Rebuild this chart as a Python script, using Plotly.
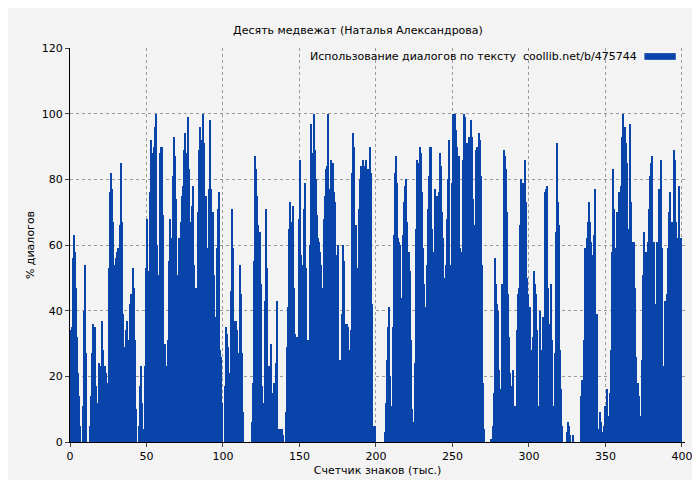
import plotly.graph_objects as go

# Доля диалогов (%) по ходу текста, прочитано с картинки по колонкам
seg1 = [34, 35, 56, 63, 58, 47, 32, 21, 14, 5, 0, 0, 11, 40, 54, 27, 0, 0, 0, 5, 14, 27, 36, 35, 35, 17, 0,
        12, 24, 20, 23, 37, 28, 12, 23, 21, 18, 18, 53, 76, 82, 77, 67, 54, 43, 56, 58, 59, 34, 66, 85, 67,
        39, 18, 29, 34, 37, 18, 31, 42, 45, 32, 53, 47, 31, 10, 0, 0, 5, 17, 23, 12, 1, 4, 23, 53, 68, 48,
        52, 76, 92, 88, 82, 90, 96, 100, 60, 19, 51, 88, 90, 90, 69, 26, 30, 23, 9, 31, 55]
seg2 = [68, 54, 62, 81, 93, 87, 74, 43, 51, 62, 52, 67, 75, 78, 89, 94, 88, 85, 99, 83, 50, 67, 72, 78,
        54, 43, 47, 46, 70, 89, 96, 92, 90, 100, 91, 75, 75, 59, 34, 77, 98, 77, 66, 70, 51, 29, 38, 59,
        71, 76, 28, 26, 12, 0, 0, 17, 35, 33, 29, 21, 19, 46, 71, 59, 37, 34, 37, 34, 22, 27, 54, 45, 27,
        9, 0, 0, 0, 0, 0, 0, 0, 0, 6, 18, 55, 87, 83, 75, 66, 58, 64, 48, 17, 4, 12, 43, 71, 53, 23, 7, 23,
        30, 15]
seg3 = [11, 18, 11, 24, 43, 4, 4, 4, 4, 4, 2, 0, 0, 9, 29, 41, 65, 73, 63, 67, 72, 47, 33, 8, 32, 26, 68,
        86, 57, 41, 54, 71, 79, 53, 26, 31, 29, 60, 97, 88, 81, 100, 89, 80, 69, 62, 61, 58, 54, 47, 36, 68,
        75, 83, 84, 100, 62, 77, 86, 85, 85, 76, 73, 57, 45, 60, 15, 25, 22, 39, 60, 55, 30, 36, 36, 35, 28,
        13, 34, 82, 94, 90, 65, 66, 42, 53, 71, 80, 84, 81, 86, 81, 84, 86, 73, 83, 56, 90, 82, 42, 5, 5, 5]
seg4 = [0, 0, 0, 0, 0, 0, 0, 0, 3, 12, 25, 35, 41, 20, 0, 11, 35, 63, 82, 87, 79, 62, 61, 60, 34, 44, 63,
        73, 78, 80, 67, 40, 58, 52, 31, 10, 4, 6, 24, 65, 86, 81, 85, 90, 88, 76, 59, 48, 30, 41, 54, 71, 81,
        90, 90, 65, 46, 58, 77, 73, 75, 66, 76, 88, 84, 70, 62, 50, 41, 54, 68, 80, 92, 54, 47, 79, 100, 93,
        100, 95, 90, 86, 87, 59, 50, 58, 86, 100, 99, 84, 91, 85, 93, 88, 98, 93, 74, 66, 64, 89, 90, 75]
seg5 = [94, 92, 81, 54, 18, 4, 0, 0, 0, 0, 0, 0, 1, 1, 5, 15, 56, 48, 42, 40, 22, 7, 16, 48, 47, 89, 87,
        83, 70, 45, 32, 21, 5, 17, 22, 5, 11, 11, 34, 45, 47, 66, 80, 70, 79, 73, 86, 73, 50, 45, 27, 41,
        26, 28, 32, 52, 48, 45, 34, 11, 9, 40, 28, 28, 38, 38, 76, 77, 78, 47, 36, 36, 48, 31, 11, 9, 27,
        64, 91, 73, 66, 28, 16, 5, 0, 0, 0, 0, 3, 6, 5, 2, 0, 0, 2, 0, 0, 0, 0, 0, 0, 0, 14]
seg6 = [19, 14, 31, 59, 54, 62, 67, 73, 67, 61, 57, 39, 63, 77, 39, 39, 0, 4, 9, 6, 2, 3, 5, 11, 11, 16,
        8, 6, 15, 28, 58, 83, 71, 45, 59, 70, 70, 76, 48, 78, 93, 100, 92, 96, 91, 85, 65, 59, 97, 73, 30,
        61, 61, 47, 26, 17, 18, 14, 8, 6, 25, 51, 64, 44, 58, 56, 61, 71, 81, 85, 87, 54, 61, 37, 42, 61,
        59, 77, 59, 86, 59, 23, 22, 43, 42, 45, 59, 70, 76, 55, 67, 55, 89, 86, 67, 51, 62, 78, 62, 62]

dialog_pct = seg1 + seg2 + seg3 + seg4 + seg5 + seg6
x_start = 0.0
x_end = 400.0
step = (x_end - x_start) / len(dialog_pct)
chars_k = [x_start + step * (i + 0.5) for i in range(len(dialog_pct))]

bar_color = '#0844aa'
bg = '#f3f3f3'
font = 'DejaVu Sans'

fig = go.Figure()
fig.add_trace(go.Bar(
    x=chars_k,
    y=dialog_pct,
    width=step,
    marker=dict(color=bar_color, line=dict(width=0)),
    showlegend=False,
))

# Легенда справа, как в оригинале: текст, затем образец цвета
fig.add_annotation(
    text='Использование диалогов по тексту  coollib.net/b/475744',
    xref='paper', yref='paper', x=0.925, y=0.978, xanchor='right', yanchor='middle',
    showarrow=False, font=dict(family=font, size=11, color='#000'),
)
fig.add_shape(type='rect', xref='paper', yref='paper', x0=0.934, x1=0.985, y0=0.97, y1=0.987,
              fillcolor=bar_color, line=dict(width=0))

fig.update_layout(
    title=dict(text='Десять медвежат (Наталья Александрова)', x=0.5, xanchor='center', y=0.962,
               font=dict(family=font, size=11, color='#000')),
    width=700, height=480,
    margin=dict(l=62, r=23, t=40, b=46),
    paper_bgcolor=bg, plot_bgcolor=bg,
    bargap=0,
    font=dict(family=font, size=11, color='#000'),
    xaxis=dict(
        title=dict(text='Счетчик знаков (тыс.)', standoff=4, font=dict(size=11)),
        range=[0, 402], tickmode='linear', tick0=0, dtick=50, automargin=False,
        showgrid=True, gridcolor='#999', griddash='dot', gridwidth=1,
        showline=True, linecolor='#000', ticks='outside', ticklen=4, zeroline=False,
    ),
    yaxis=dict(
        title=dict(text='% диалогов', standoff=4, font=dict(size=11)),
        range=[0, 120], tickmode='linear', tick0=0, dtick=20, automargin=False,
        showgrid=True, gridcolor='#999', griddash='dot', gridwidth=1,
        showline=True, linecolor='#000', ticks='outside', ticklen=4, zeroline=False,
    ),
)

fig.write_html("out.html")
